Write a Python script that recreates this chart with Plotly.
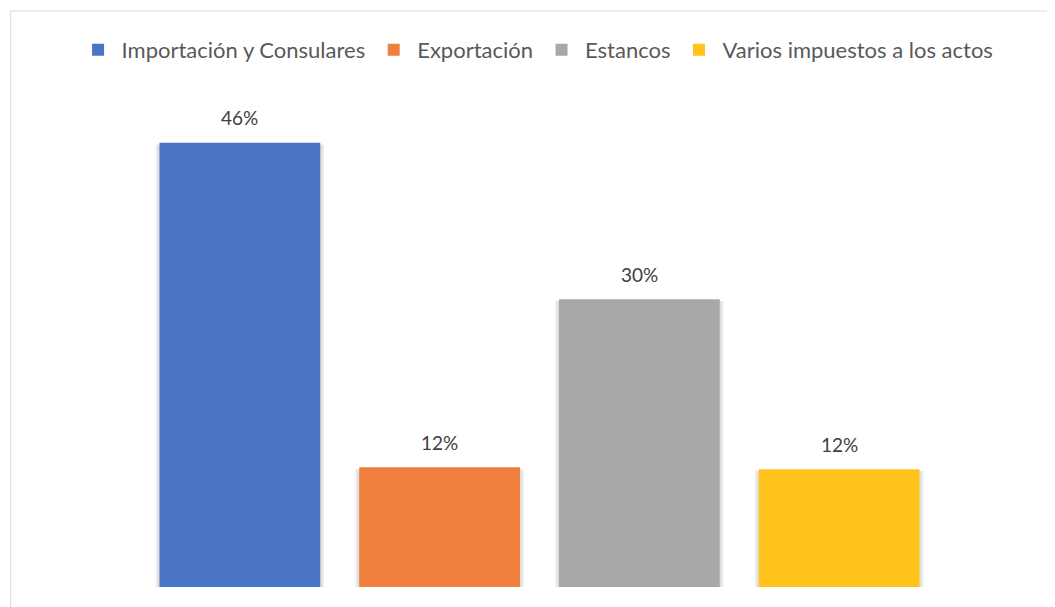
import plotly.graph_objects as go

categories = ["Importación y Consulares", "Exportación", "Estancos", "Varios impuestos a los actos"]
values = [46.0, 12.4, 29.8, 12.2]
colors = ["#4A74C6", "#EE7F3C", "#A8A8A8", "#FFC31C"]

OFF = 8  # page body margin
W, H = 1055 - OFF, 607 - OFF
ml, mt, mb = 139.5 - OFF, 104 - OFF, 20
pw = 800
mr = W - ml - pw
ph = H - mt - mb
BAR_W = 0.805

fig = go.Figure()
# soft shadows behind bars
for cat, val in zip(categories, values):
    for extra, alpha in [(0.04, 0.05), (0.025, 0.07)]:
        fig.add_trace(go.Bar(
            x=[cat], y=[val - 0.2 + 0.25], base=[-0.25], width=BAR_W + extra,
            marker=dict(color=f"rgba(0,0,0,{alpha})", line=dict(width=0)),
            showlegend=False, hoverinfo="skip",
        ))
for cat, val, col in zip(categories, values, colors):
    fig.add_trace(go.Bar(
        x=[cat], y=[val], name=cat, marker=dict(color=col, line=dict(width=0)),
        width=BAR_W, showlegend=True, hoverinfo="skip",
    ))
    fig.add_annotation(x=cat, y=val, text=f"{val:.0f}%", showarrow=False,
                       yshift=25, font=dict(size=19, color="#404040", family="Lato"))

# outer frame
fig.add_shape(type="rect", xref="paper", yref="paper",
              x0=(10 - OFF - ml) / pw, x1=1.3, y0=-0.2, y1=1 + (mt - (11 - OFF)) / ph,
              line=dict(color="#D9D9D9", width=1), fillcolor="rgba(0,0,0,0)", layer="below")

fig.update_layout(
    width=W, height=H,
    margin=dict(l=ml, r=mr, t=mt, b=mb, autoexpand=False),
    paper_bgcolor="white", plot_bgcolor="white",
    barmode="overlay",
    font=dict(family="Lato", color="#595959"),
    xaxis=dict(visible=False, categoryorder="array", categoryarray=categories, range=[-0.5, 3.5]),
    yaxis=dict(visible=False, range=[0, 50]),
    legend=dict(orientation="h", x=(74 - OFF - ml) / pw, xanchor="left",
                y=1 + (mt - (50 - OFF)) / ph, yanchor="middle",
                font=dict(size=22, color="#595959"), itemwidth=37,
                traceorder="normal", bgcolor="rgba(0,0,0,0)"),
)
fig.write_html("out.html")
